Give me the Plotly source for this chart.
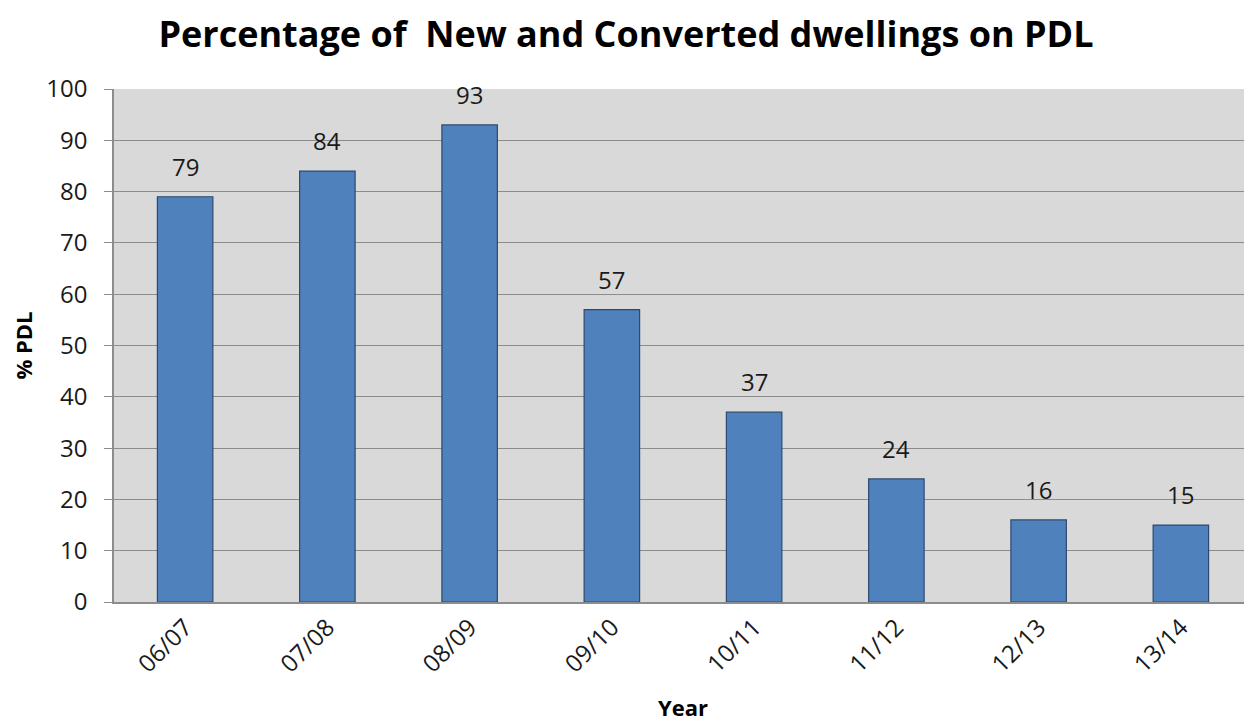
import plotly.graph_objects as go

years = ["06/07", "07/08", "08/09", "09/10", "10/11", "11/12", "12/13", "13/14"]
pdl_pct = [79, 84, 93, 57, 37, 24, 16, 15]

FONT = "Open Sans"

# page body has an 8px margin, so the figure is sized to fit inside the window
W, H = 1244, 714

fig = go.Figure()

fig.add_trace(go.Bar(
    x=years,
    y=pdl_pct,
    width=0.39,
    marker=dict(color="#4f81bd", line=dict(color="#2c4a6e", width=1.2)),
    hoverinfo="x+y",
))

# labels over the bars
for yr, v in zip(years, pdl_pct):
    fig.add_annotation(
        x=yr, y=v, text=str(v), showarrow=False,
        yanchor="bottom", yshift=12,
        font=dict(family=FONT, size=24, color="#1a1a1a"),
    )

fig.update_layout(
    width=W,
    height=H,
    paper_bgcolor="white",
    plot_bgcolor="#d9d9d9",
    margin=dict(l=106, r=0, t=81, b=120),
    showlegend=False,
    title=dict(
        text="<b>Percentage of\u00a0 New and Converted dwellings on PDL</b>",
        x=(626 - 8) / W, xanchor="center", xref="container",
        y=1 - 26 / H, yanchor="middle", yref="container",
        font=dict(family=FONT, size=36, color="black"),
    ),
)

fig.update_xaxes(
    tickangle=-45,
    tickfont=dict(family=FONT, size=24, color="#1a1a1a"),
    title=dict(text="<b>Year</b>", font=dict(family=FONT, size=22, color="black"), standoff=36),
    showline=True, linecolor="#8c8c8c", linewidth=1.5,
    ticks="", showgrid=False, automargin=False,
)

fig.update_yaxes(
    range=[0, 100],
    dtick=10,
    tickfont=dict(family=FONT, size=24, color="#1a1a1a"),
    title=dict(text="<b>% PDL</b>", font=dict(family=FONT, size=22, color="black"), standoff=16),
    showgrid=True, gridcolor="#8c8c8c", gridwidth=1.2,
    showline=True, linecolor="#8c8c8c", linewidth=1.5,
    ticks="outside", ticklen=8, tickcolor="#8c8c8c",
    ticklabelstandoff=12,
    zeroline=False, automargin=False,
)

fig.write_html("out.html")
